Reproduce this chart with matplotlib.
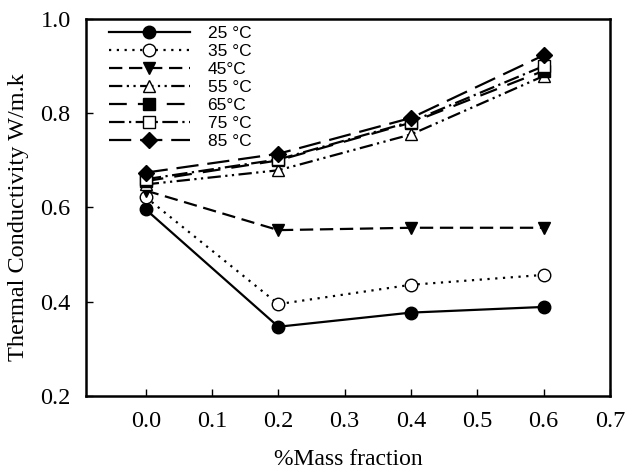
import matplotlib
matplotlib.use("Agg")
import matplotlib.pyplot as plt

mass_fraction = [0.0, 0.2, 0.4, 0.6]
labels = ["25 °C", "35 °C", "45°C", "55 °C", "65°C", "75 °C", "85 °C"]
k_25 = [0.596, 0.347, 0.377, 0.389]
k_35 = [0.622, 0.395, 0.436, 0.457]
k_45 = [0.636, 0.552, 0.557, 0.557]
k_55 = [0.649, 0.679, 0.755, 0.879]
k_65 = [0.656, 0.700, 0.780, 0.890]
k_75 = [0.660, 0.702, 0.782, 0.900]
k_85 = [0.674, 0.714, 0.790, 0.923]
series = [k_25, k_35, k_45, k_55, k_65, k_75, k_85]

styles = [
    dict(linestyle="-", marker="o", mfc="black"),
    dict(linestyle=(0, (1, 2.5)), marker="o", mfc="white"),
    dict(linestyle=(0, (6, 3)), marker="v", mfc="black"),
    dict(linestyle=(0, (6, 2, 1, 2, 1, 2)), marker="^", mfc="white"),
    dict(linestyle=(0, (8, 5)), marker="s", mfc="black"),
    dict(linestyle=(0, (7, 2, 1, 2)), marker="s", mfc="white"),
    dict(linestyle=(0, (10, 4)), marker="D", mfc="black"),
]

fig = plt.figure(figsize=(6.25, 4.71), dpi=100)
ax = fig.add_axes([0.1376, 0.1592, 0.8384, 0.8005])

for y, lab, st in zip(series, labels, styles):
    ms = 9 if st["marker"] != "D" else 8
    ax.plot(mass_fraction, y, color="black", lw=1.6, marker=st["marker"],
            markersize=ms, markerfacecolor=st["mfc"], markeredgecolor="black",
            markeredgewidth=1.0, linestyle=st["linestyle"], label=lab)

ax.set_xlim(-0.09, 0.7)
ax.set_ylim(0.2, 1.0)
ax.set_xticks([0.0, 0.1, 0.2, 0.3, 0.4, 0.5, 0.6, 0.7])
ax.set_yticks([0.2, 0.4, 0.6, 0.8, 1.0])
ax.set_xticklabels([f"{v:.1f}" for v in ax.get_xticks()])
ax.set_yticklabels([f"{v:.1f}" for v in ax.get_yticks()])
ax.tick_params(direction="in", length=5, width=1, top=False, right=False,
               labelsize=17.5)
for lbl in ax.get_xticklabels() + ax.get_yticklabels():
    lbl.set_fontfamily("Liberation Serif")
ax.tick_params(axis="x", pad=11)
ax.tick_params(axis="y", pad=11)
for s in ax.spines.values():
    s.set_linewidth(1.8)

ax.set_xlabel("%Mass fraction", fontsize=17, family="Liberation Serif", labelpad=12)
ax.set_ylabel("Thermal Conductivity W/m.k", fontsize=17.5, family="Liberation Serif")
ax.yaxis.set_label_coords(-0.108, 0.474)

leg = ax.legend(loc="upper left", frameon=False, handlelength=4.7,
                prop=dict(family="Liberation Sans", size=12.5),
                labelspacing=0.16, borderaxespad=0.3, handletextpad=1.0,
                bbox_to_anchor=(0.02, 1.013))

fig.savefig("out.png", dpi=100)
